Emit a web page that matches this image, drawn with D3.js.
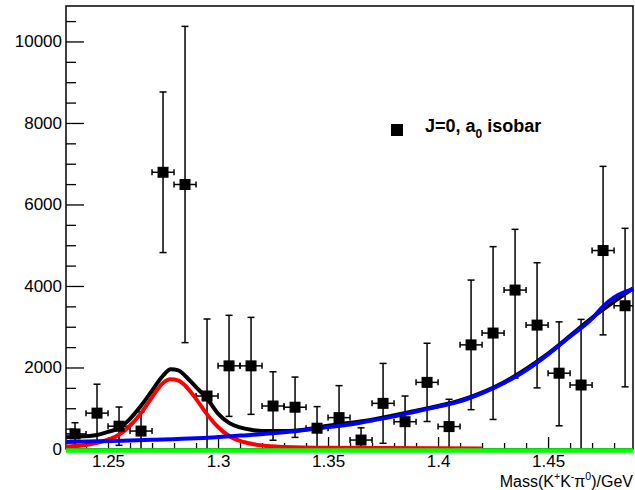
<!DOCTYPE html>
<html>
<head>
<meta charset="utf-8">
<script src="https://cdn.jsdelivr.net/npm/d3@7"></script>
<style>
  body { margin: 0; background: #fff; }
  svg { font-family: "Liberation Sans", Arial, Helvetica, sans-serif; }
</style>
</head>
<body>
<div id="chart-container"></div>
<script>
// Data points (bin centres, yields and errors)
const mass = [1.235, 1.245, 1.255, 1.265, 1.275, 1.285, 1.295, 1.305, 1.315, 1.325,
              1.335, 1.345, 1.355, 1.365, 1.375, 1.385, 1.395, 1.405, 1.415, 1.425,
              1.435, 1.445, 1.455, 1.465, 1.475, 1.485];
const counts = [370, 880, 560, 440, 6790, 6490, 1300, 2040, 2040, 1055,
                1025, 510, 770, 220, 1120, 670, 1635, 550, 2555, 2845,
                3900, 3040, 1860, 1570, 4870, 3515];
const errLow = [275, 710, 470, 470, 1970, 3880, 1890, 1240, 1190, 840,
                740, 530, 785, 300, 980, 630, 960, 670, 1590, 2120,
                2160, 1540, 1290, 1620, 2070, 1990];
const errHigh = [275, 710, 470, 470, 1970, 3880, 1890, 1240, 1190, 840,
                 740, 530, 785, 300, 980, 630, 960, 670, 1590, 2120,
                 1490, 1530, 1260, 1610, 2065, 1900];
const binHalf = 0.005;

// Fit curves
const blueMass = [1.231, 1.25, 1.27, 1.29, 1.31, 1.33, 1.35, 1.36, 1.37, 1.38, 1.39,
                  1.40, 1.41, 1.42, 1.43, 1.44, 1.45, 1.46, 1.47, 1.475, 1.48, 1.4886];
const blueVals = [170, 195, 225, 262, 330, 410, 540, 600, 700, 800, 920,
                  1040, 1170, 1370, 1620, 1930, 2320, 2760, 3200, 3500, 3720, 3920];

const redMass = [1.231, 1.24, 1.25, 1.255, 1.26, 1.265, 1.27, 1.275, 1.2785, 1.282,
                 1.285, 1.29, 1.295, 1.30, 1.305, 1.31, 1.315, 1.32, 1.33, 1.35, 1.40, 1.42];
const redVals = [60, 100, 230, 350, 570, 880, 1270, 1620, 1710, 1680,
                 1560, 1230, 850, 540, 320, 200, 130, 85, 50, 30, 20, 15];

const blackMass = [1.231, 1.235, 1.245, 1.25, 1.255, 1.26, 1.265, 1.27, 1.275, 1.2785,
                   1.282, 1.285, 1.29, 1.295, 1.30, 1.305, 1.31, 1.315, 1.32, 1.33,
                   1.34, 1.35, 1.37, 1.39, 1.41, 1.43, 1.45, 1.47, 1.4886];
const blackVals = [290, 300, 345, 420, 510, 740, 1060, 1430, 1800, 1955,
                   1930, 1800, 1520, 1240, 870, 640, 530, 470, 440, 440,
                   480, 570, 720, 940, 1190, 1640, 2340, 3220, 3940];

const greenMass = [1.2309, 1.4886];
const greenVals = [0, 0];

// Axis ticks
const xTicks = [1.25, 1.3, 1.35, 1.4, 1.45];
const yTicks = [0, 2000, 4000, 6000, 8000, 10000];

// Layout
const W = 635, H = 490;
const margin = { top: 6, right: 2, bottom: 41, left: 66 };
const width = W - margin.left - margin.right;
const height = H - margin.top - margin.bottom;

const x = d3.scaleLinear().domain([1.2309, 1.4886]).range([0, width]);
const y = d3.scaleLinear().domain([0, 10870]).range([height, 0]);

const svg = d3.select("#chart-container")
    .append("svg")
    .attr("width", W)
    .attr("height", H)
    .append("g")
    .attr("transform", `translate(${margin.left},${margin.top})`);

svg.append("clipPath")
    .attr("id", "frame-clip")
    .append("rect")
    .attr("x", 0).attr("y", 0)
    .attr("width", width).attr("height", height);

// Minor ticks
const yMinor = d3.range(500, 10870, 500).filter(d => d % 2000 !== 0);
svg.append("g")
    .call(d3.axisLeft(y).tickValues(yMinor).tickSizeInner(-10).tickSizeOuter(0).tickFormat(""))
    .call(g => g.select(".domain").remove())
    .call(g => g.selectAll("line").attr("stroke-width", 1.3));

const xMinor = d3.range(124, 149).map(d => d / 100).filter(d => Math.round(d * 100) % 5 !== 0);
svg.append("g")
    .attr("transform", `translate(0,${height})`)
    .call(d3.axisBottom(x).tickValues(xMinor).tickSizeInner(-6).tickSizeOuter(0).tickFormat(""))
    .call(g => g.select(".domain").remove())
    .call(g => g.selectAll("line").attr("stroke-width", 1.3));

// Major axes
svg.append("g")
    .call(d3.axisLeft(y).tickValues(yTicks).tickSizeInner(-18).tickSizeOuter(0).tickPadding(4)
        .tickFormat(d3.format("d")))
    .call(g => g.select(".domain").remove())
    .call(g => g.selectAll("line").attr("stroke-width", 1.3))
    .call(g => g.selectAll("text").attr("font-size", 17).attr("font-family", "Liberation Sans, Arial").attr("fill", "#000"));

svg.append("g")
    .attr("transform", `translate(0,${height})`)
    .call(d3.axisBottom(x).tickValues(xTicks).tickSizeInner(-12).tickSizeOuter(0).tickPadding(6)
        .tickFormat(d => d3.format("")(d)))
    .call(g => g.select(".domain").remove())
    .call(g => g.selectAll("line").attr("stroke-width", 1.3))
    .call(g => g.selectAll("text").attr("font-size", 17).attr("font-family", "Liberation Sans, Arial").attr("fill", "#000"));

// Frame
svg.append("rect")
    .attr("width", width)
    .attr("height", height)
    .attr("fill", "none")
    .attr("stroke", "#000")
    .attr("stroke-width", 1.5);

const data = mass.map((m, i) => ({ m, v: counts[i], lo: errLow[i], hi: errHigh[i] }));

// Error bars
const bars = svg.append("g")
    .attr("clip-path", "url(#frame-clip)")
    .attr("stroke", "#000")
    .attr("stroke-width", 1.5);

data.forEach(d => {
    const cx = x(d.m), cy = y(d.v);
    const top = y(d.v + d.hi), bot = y(d.v - d.lo);
    bars.append("line").attr("x1", cx).attr("x2", cx).attr("y1", top).attr("y2", bot);
    bars.append("line").attr("x1", cx - 3.5).attr("x2", cx + 3.5).attr("y1", top).attr("y2", top);
    if (d.v - d.lo > 0) {
        bars.append("line").attr("x1", cx - 3.5).attr("x2", cx + 3.5).attr("y1", bot).attr("y2", bot);
    }
    const xl = x(d.m - binHalf), xr = x(d.m + binHalf);
    bars.append("line").attr("x1", xl).attr("x2", xr).attr("y1", cy).attr("y2", cy);
    bars.append("line").attr("x1", xl).attr("x2", xl).attr("y1", cy - 3).attr("y2", cy + 3);
    bars.append("line").attr("x1", xr).attr("x2", xr).attr("y1", cy - 3).attr("y2", cy + 3);
});

// Curves
const line = d3.line()
    .x(d => x(d[0]))
    .y(d => y(d[1]))
    .curve(d3.curveMonotoneX);

const curves = svg.append("g").attr("fill", "none").attr("stroke-linejoin", "round");

curves.append("path")
    .datum(d3.zip(blackMass, blackVals))
    .attr("stroke", "#000")
    .attr("stroke-width", 4)
    .attr("d", line);

curves.append("path")
    .datum(d3.zip(redMass, redVals))
    .attr("stroke", "#ff0000")
    .attr("stroke-width", 4)
    .attr("d", line);

curves.append("path")
    .datum(d3.zip(blueMass, blueVals))
    .attr("stroke", "#0000ff")
    .attr("stroke-width", 4)
    .attr("d", line);

curves.append("path")
    .datum(d3.zip(greenMass, greenVals))
    .attr("stroke", "#00ff00")
    .attr("stroke-width", 4.5)
    .attr("transform", "translate(0,1.5)")
    .attr("d", line);

// Markers
svg.append("g")
    .selectAll("rect")
    .data(data)
    .join("rect")
    .attr("x", d => x(d.m) - 5.5)
    .attr("y", d => y(d.v) - 5.5)
    .attr("width", 11)
    .attr("height", 11)
    .attr("fill", "#000");

// Legend
svg.append("rect")
    .attr("x", 391 - margin.left)
    .attr("y", 124 - margin.top)
    .attr("width", 12)
    .attr("height", 12)
    .attr("fill", "#000");

const leg = svg.append("text")
    .attr("x", 425 - margin.left)
    .attr("y", 132 - margin.top)
    .attr("font-size", 18)
    .attr("font-weight", "bold")
    .attr("fill", "#000");
leg.append("tspan").text("J=0, a");
leg.append("tspan").attr("font-size", 12).attr("dy", 6).text("0");
leg.append("tspan").attr("dy", -6).text(" isobar");

// X axis title
const title = svg.append("text")
    .attr("x", width)
    .attr("y", 487 - margin.top)
    .attr("text-anchor", "end")
    .attr("font-size", 16)
    .attr("fill", "#000");
title.append("tspan").text("Mass(K");
title.append("tspan").attr("font-size", 10.5).attr("dy", -7).text("+");
title.append("tspan").attr("dy", 7).text("K");
title.append("tspan").attr("font-size", 10.5).attr("dy", -7).text("-");
title.append("tspan").attr("dy", 7).text("π");
title.append("tspan").attr("font-size", 10.5).attr("dy", -7).text("0");
title.append("tspan").attr("dy", 7).text(")/GeV");
</script>
</body>
</html>
